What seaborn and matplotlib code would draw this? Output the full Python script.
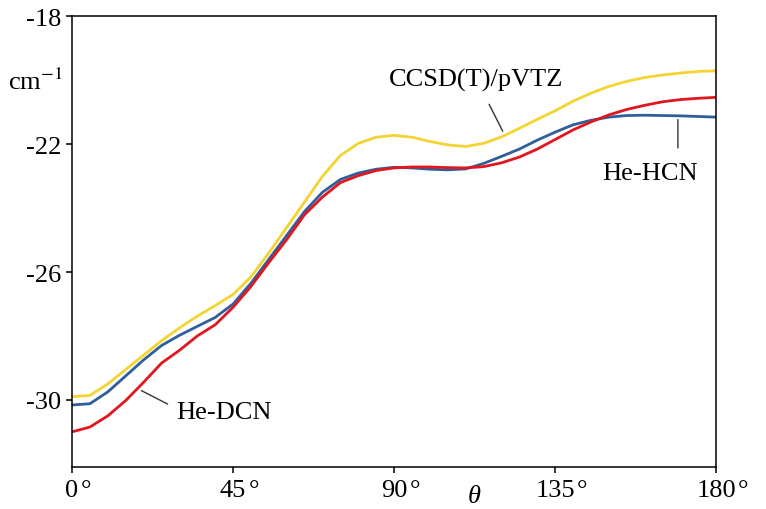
import matplotlib
matplotlib.use("Agg")
import matplotlib.pyplot as plt
import pandas as pd
import seaborn as sns

# ---- data ----
angles = [0, 5, 10, 15, 20, 25, 30, 35, 40, 45, 50, 55, 60, 65, 70, 75, 80, 85, 90,
          95, 100, 105, 110, 115, 120, 125, 130, 135, 140, 145, 150, 155, 160, 165,
          170, 175, 180]
ccsd = [-29.90, -29.86, -29.50, -29.05, -28.60, -28.15, -27.75, -27.38, -27.05,
        -26.70, -26.15, -25.40, -24.60, -23.80, -23.00, -22.35, -21.97, -21.78,
        -21.72, -21.78, -21.91, -22.02, -22.07, -21.97, -21.77, -21.50, -21.22,
        -20.95, -20.65, -20.40, -20.19, -20.03, -19.91, -19.83, -19.77, -19.72,
        -19.70]
he_hcn = [-30.16, -30.12, -29.75, -29.25, -28.75, -28.30, -27.98, -27.70, -27.42,
          -27.00, -26.35, -25.60, -24.85, -24.10, -23.50, -23.10, -22.90, -22.78,
          -22.72, -22.74, -22.78, -22.80, -22.77, -22.60, -22.38, -22.15, -21.87,
          -21.62, -21.39, -21.25, -21.15, -21.10, -21.09, -21.10, -21.11, -21.13,
          -21.15]
he_dcn = [-31.00, -30.85, -30.50, -30.02, -29.45, -28.85, -28.45, -28.00, -27.65,
          -27.10, -26.45, -25.70, -24.98, -24.20, -23.65, -23.20, -22.98, -22.82,
          -22.74, -22.71, -22.71, -22.73, -22.74, -22.70, -22.58, -22.40, -22.15,
          -21.85, -21.55, -21.30, -21.08, -20.91, -20.78, -20.67, -20.60, -20.56,
          -20.53]

series_names = ["CCSD(T)/pVTZ", "He-HCN", "He-DCN"]
series_colors = ["#F3D433", "#2F5F9B", "#E2161E"]
x_ticks = [0, 45, 90, 135, 180]
x_tick_labels = ["0", "45", "90", "135", "180"]
y_ticks = [-30, -26, -22, -18]
y_tick_labels = ["-30", "-26", "-22", "-18"]

# ---- style ----
sns.set_style("ticks")
plt.rcParams["font.family"] = ["Liberation Serif", "DejaVu Serif"]
plt.rcParams["mathtext.fontset"] = "stix"
plt.rcParams["text.color"] = "black"
plt.rcParams["axes.edgecolor"] = "black"
plt.rcParams["xtick.color"] = "black"
plt.rcParams["ytick.color"] = "black"
plt.rcParams["lines.solid_joinstyle"] = "round"
plt.rcParams["lines.solid_capstyle"] = "round"

df = pd.DataFrame({
    "angle": angles * 3,
    "value": ccsd + he_hcn + he_dcn,
    "series": [series_names[0]] * len(angles) + [series_names[1]] * len(angles)
              + [series_names[2]] * len(angles),
})

fig = plt.figure(figsize=(7.66, 5.10), dpi=100)
ax = fig.add_axes([0.094, 0.0824, 0.841, 0.8833])

sns.lineplot(data=df, x="angle", y="value", hue="series", hue_order=series_names,
             palette=dict(zip(series_names, series_colors)), linewidth=2.0,
             legend=False, estimator=None, sort=False, ax=ax)

ax.set_xlim(0, 180)
ax.set_ylim(-32.1, -18)
ax.set_xlabel("")
ax.set_ylabel("")
ax.set_xticks(x_ticks)
ax.set_xticklabels(x_tick_labels)
ax.set_yticks(y_ticks)
ax.set_yticklabels(y_tick_labels)
for s in ax.spines.values():
    s.set_visible(True)
    s.set_linewidth(1.1)
ax.tick_params(axis="both", direction="out", length=4, width=1.1, labelsize=19,
               pad=4)
ax.tick_params(axis="x", pad=5)

# degree signs after each x tick number
for t, lab in zip(x_ticks, x_tick_labels):
    ax.annotate("°", xy=(t, 0), xycoords=("data", "axes fraction"),
                xytext=(len(lab) * 6.6 * 0.72 + 1.5, -9), textcoords="offset points",
                ha="left", va="top", fontsize=19, annotation_clip=False)

# curve labels with leader lines
ax.annotate("", xy=(120.7, -21.67), xytext=(116.2, -20.67),
            arrowprops=dict(arrowstyle="-", color="#333333", lw=1.0))
ax.text(113, -20.16, "CCSD(T)/pVTZ", ha="center", va="baseline", fontsize=19)

ax.annotate("", xy=(169.3, -21.14), xytext=(169.3, -22.2),
            arrowprops=dict(arrowstyle="-", color="#333333", lw=1.0))
ax.text(161.5, -23.08, "He-HCN", ha="center", va="baseline", fontsize=19)

ax.annotate("", xy=(18.7, -29.67), xytext=(27.4, -30.17),
            arrowprops=dict(arrowstyle="-", color="#333333", lw=1.0))
ax.text(42.5, -30.58, "He-DCN", ha="center", va="baseline", fontsize=19)

# axis titles
fig.text(8 / 766, 1 - 90 / 510, r"cm$^{-1}$", ha="left", va="baseline", fontsize=19)
fig.text(474 / 766, 2 / 510, "θ", style="italic", ha="center", va="bottom",
         fontsize=19)

fig.savefig("out.png", dpi=100)
